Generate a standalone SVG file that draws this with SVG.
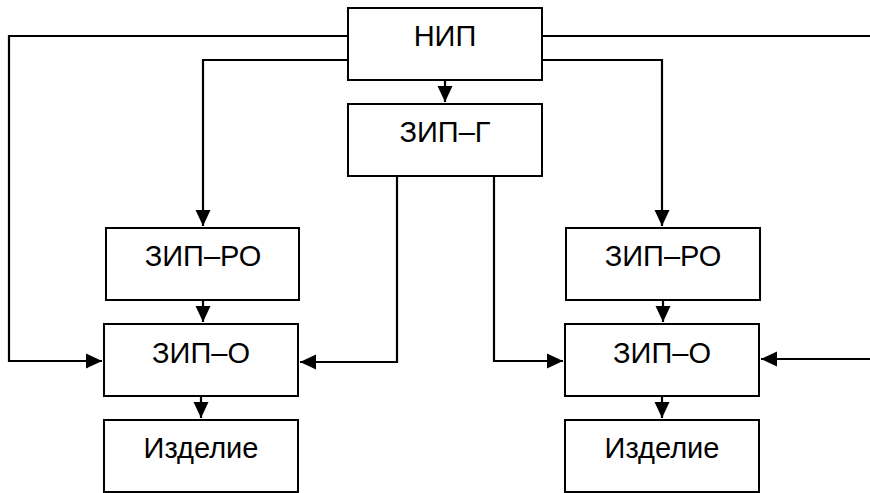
<svg xmlns="http://www.w3.org/2000/svg" width="870" height="493" viewBox="0 0 870 493">
<style>
.box{fill:#fff;stroke:#000;stroke-width:2}
.lbl{font-family:"Liberation Sans",Arial,sans-serif;font-size:29px;fill:#000;text-anchor:middle}
.ln{fill:none;stroke:#000;stroke-width:2.2}
</style>
<defs>
<marker id="ah" markerUnits="userSpaceOnUse" markerWidth="17" markerHeight="16" refX="16" refY="8" orient="auto">
<path d="M0,0.5 L16,8 L0,15.5 Z" fill="#000"/>
</marker>
</defs>
<rect width="870" height="493" fill="#fff"/>
<g id="connectors">
<path class="ln" d="M348,36 H9 V361 H102" marker-end="url(#ah)"/>
<path class="ln" d="M348,60 H203 V226" marker-end="url(#ah)"/>
<path class="ln" d="M542,36 H870"/>
<path class="ln" d="M542,60 H662 V226" marker-end="url(#ah)"/>
<path class="ln" d="M445,80 V102" marker-end="url(#ah)"/>
<path class="ln" d="M397,176 V362 H300" marker-end="url(#ah)"/>
<path class="ln" d="M494,176 V361 H563" marker-end="url(#ah)"/>
<path class="ln" d="M870,359 H761" marker-end="url(#ah)"/>
<path class="ln" d="M203,300 V322" marker-end="url(#ah)"/>
<path class="ln" d="M201,396 V418" marker-end="url(#ah)"/>
<path class="ln" d="M663,300 V322" marker-end="url(#ah)"/>
<path class="ln" d="M662,396 V418" marker-end="url(#ah)"/>
</g>
<g id="nip"><rect class="box" x="348" y="8" width="194" height="72"/><text class="lbl" x="445" y="46">НИП</text></g>
<g id="zip-g"><rect class="box" x="348" y="104" width="194" height="72"/><text class="lbl" x="445" y="142">ЗИП–Г</text></g>
<g id="zip-ro-left"><rect class="box" x="106" y="228" width="193" height="72"/><text class="lbl" x="203" y="266">ЗИП–РО</text></g>
<g id="zip-o-left"><rect class="box" x="104" y="324" width="194" height="72"/><text class="lbl" x="201" y="363">ЗИП–О</text></g>
<g id="izdelie-left"><rect class="box" x="104" y="420" width="194" height="72"/><text class="lbl" x="201" y="458">Изделие</text></g>
<g id="zip-ro-right"><rect class="box" x="566" y="228" width="194" height="72"/><text class="lbl" x="663" y="266">ЗИП–РО</text></g>
<g id="zip-o-right"><rect class="box" x="565" y="324" width="194" height="72"/><text class="lbl" x="662" y="363">ЗИП–О</text></g>
<g id="izdelie-right"><rect class="box" x="565" y="420" width="194" height="72"/><text class="lbl" x="662" y="458">Изделие</text></g>
</svg>
